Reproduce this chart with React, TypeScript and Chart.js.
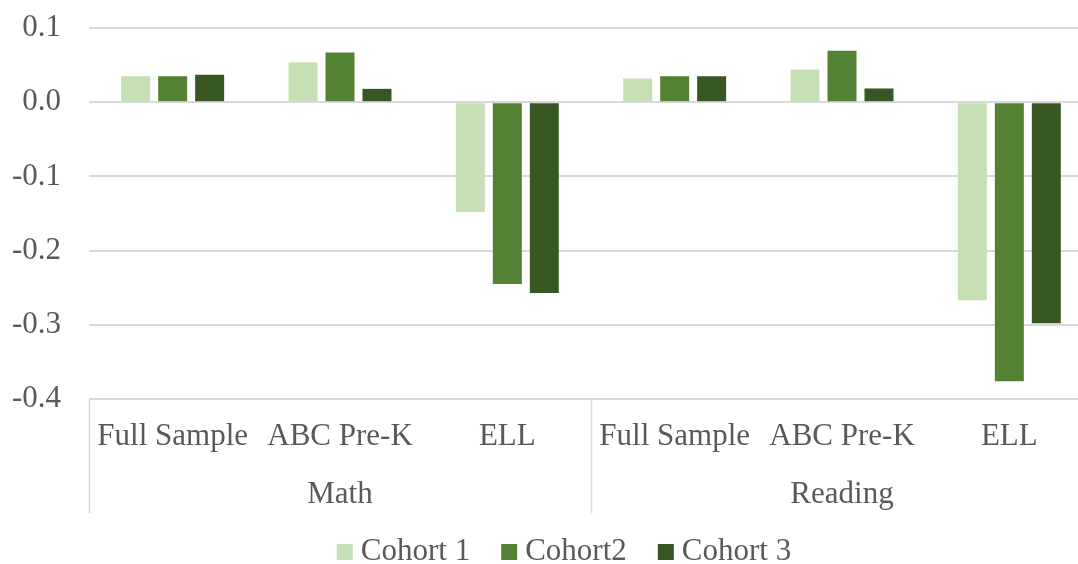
import React, { useEffect, useRef } from "react";
import { Chart, registerables } from "chart.js";

Chart.register(...registerables);

const categories = ["Full Sample", "ABC Pre-K", "ELL", "Full Sample", "ABC Pre-K", "ELL"];
const groups = ["Math", "Reading"];
const seriesNames = ["Cohort 1", "Cohort2", "Cohort 3"];
const cohort1 = [0.035, 0.054, -0.148, 0.032, 0.044, -0.267];
const cohort2 = [0.035, 0.067, -0.245, 0.035, 0.0695, -0.376];
const cohort3 = [0.037, 0.018, -0.257, 0.035, 0.0185, -0.298];
const colors = ["#C5E0B4", "#548235", "#385723"];

const FONT = "'Liberation Serif', 'Times New Roman', serif";
const TEXT = "#595959";
const GRID = "#d9d9d9";

const axisPlugin = {
  id: "multiAxis",
  afterDraw(chart: any) {
    const ctx = chart.ctx;
    const x = chart.scales.x;
    const area = chart.chartArea;
    const n = categories.length;
    const step = (x.getPixelForValue(1) - x.getPixelForValue(0));
    ctx.save();
    // separators
    ctx.strokeStyle = GRID;
    ctx.lineWidth = 1.5;
    const per = n / groups.length;
    for (let g = 0; g <= groups.length; g++) {
      const px = x.getPixelForValue(g * per) - step / 2;
      ctx.beginPath();
      ctx.moveTo(Math.round(px) + 0.5, area.bottom);
      ctx.lineTo(Math.round(px) + 0.5, 513);
      ctx.stroke();
    }
    ctx.fillStyle = TEXT;
    ctx.font = `31px ${FONT}`;
    ctx.textAlign = "center";
    ctx.textBaseline = "middle";
    categories.forEach((c, i) => {
      ctx.fillText(c, x.getPixelForValue(i), 437);
    });
    groups.forEach((g, gi) => {
      const a = x.getPixelForValue(gi * per) - step / 2;
      const b = x.getPixelForValue(gi * per + per - 1) + step / 2;
      ctx.fillText(g, (a + b) / 2, 495);
    });
    // legend
    const box = 16;
    const gapBox = 8;
    const gapItem = 31;
    const widths = seriesNames.map((s) => ctx.measureText(s).width);
    const total = widths.reduce((a, w) => a + box + gapBox + w, 0) + gapItem * (seriesNames.length - 1);
    let lx = 564 - total / 2;
    ctx.textAlign = "left";
    chart.data.datasets.forEach((ds: any, i: number) => {
      ctx.fillStyle = ds.backgroundColor;
      ctx.fillRect(lx, 544, box, box);
      ctx.fillStyle = TEXT;
      ctx.fillText(ds.label, lx + box + gapBox, 552);
      lx += box + gapBox + widths[i] + gapItem;
    });
    ctx.restore();
  },
};

export default function App() {
  const ref = useRef<HTMLCanvasElement>(null);
  useEffect(() => {
    if (!ref.current) return;
    const chart = new Chart(ref.current, {
      type: "bar",
      data: {
        labels: categories,
        datasets: [cohort1, cohort2, cohort3].map((d, i) => ({
          label: seriesNames[i],
          data: d,
          backgroundColor: colors[i],
          borderWidth: 0,
          categoryPercentage: 0.663,
          barPercentage: 0.784,
        })),
      },
      options: {
        animation: false,
        responsive: false,
        devicePixelRatio: 1,
        layout: { padding: { top: 28, right: 7, bottom: 165, left: 0 } },
        plugins: { legend: { display: false }, tooltip: { enabled: false } },
        scales: {
          x: { display: false },
          y: {
            min: -0.4,
            max: 0.1,
            afterFit: (s: any) => {
              s.width = 89;
              s.paddingTop = 0;
              s.paddingBottom = 0;
            },
            ticks: {
              stepSize: 0.1,
              padding: 28,
              color: TEXT,
              font: { family: FONT, size: 31 },
              callback: (v: any) => (Math.abs(v) < 1e-9 ? "0.0" : Number(v).toFixed(1)),
            },
            grid: { color: GRID, lineWidth: 2, drawTicks: false },
            border: { display: false },
          },
        },
      },
      plugins: [axisPlugin],
    });
    return () => chart.destroy();
  }, []);
  return (
    <div style={{ position: "absolute", left: 0, top: 0, width: 1078, height: 564, overflow: "hidden", background: "#fff" }}>
      <canvas ref={ref} width={1100} height={564} style={{ width: 1100, height: 564, display: "block" }} />
    </div>
  );
}
